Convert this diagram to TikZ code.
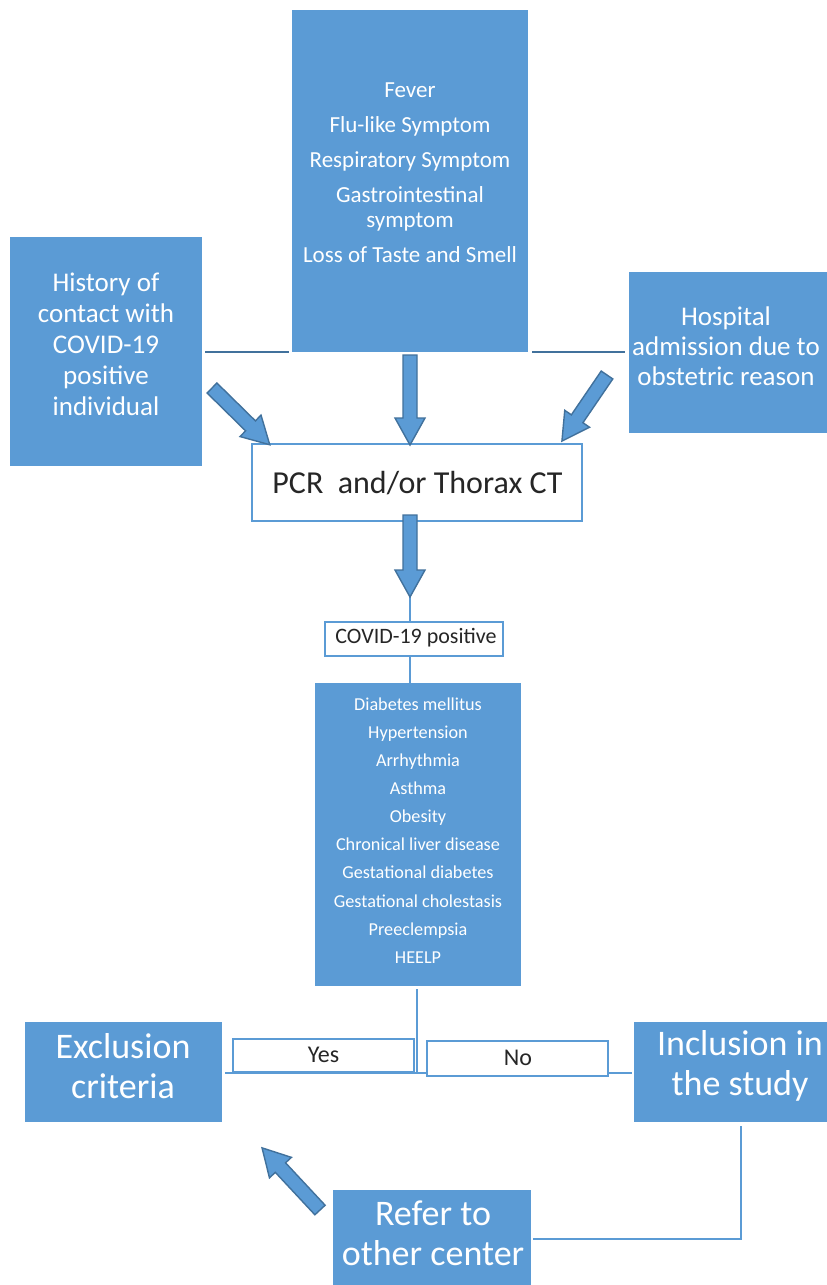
\documentclass[tikz,border=0pt]{standalone}
\usepackage{fontspec}
\setmainfont{Carlito}
\usetikzlibrary{calc}
\definecolor{boxblue}{HTML}{5B9BD5}
\definecolor{edgeblue}{HTML}{41719C}
\tikzset{
  fbox/.style={fill=boxblue, draw=none, inner sep=0pt, minimum width=#1},
  wbox/.style={fill=white, draw=boxblue, line width=2pt, inner sep=0pt},
  wtxt/.style={text=white, align=center, inner sep=0pt},
  btxt/.style={text=black!85, align=center, inner sep=0pt},
  conn/.style={draw=edgeblue, line width=1.8pt},
  conn2/.style={draw=boxblue, line width=2pt},
  barrowst/.style={fill=boxblue, draw=edgeblue, line width=1.4pt, line join=miter}
}
% block arrow: start coordinate, angle, length
\newcommand{\blockarr}[3]{%
  \draw[barrowst, shift={#1}, rotate=#2]
    (0,-7) -- (#3-27,-7) -- (#3-27,-15) -- (#3,0) -- (#3-27,15) -- (#3-27,7) -- (0,7) -- cycle;}
\begin{document}
\begin{tikzpicture}[x=1pt,y=-1pt]
\useasboundingbox (0,0) rectangle (827,1285);
\fill[white] (0,0) rectangle (827,1285);

% boxes
\node[fbox=236, minimum height=342] (top) at (410,181) {};
\node[fbox=192, minimum height=229] (hist) at (106,351.5) {};
\node[fbox=198, minimum height=161] (hosp) at (728,352.5) {};
\node[fbox=206, minimum height=303] (comorb) at (418,834.5) {};
\node[fbox=197, minimum height=100] (excl) at (123.5,1072) {};
\node[fbox=193, minimum height=100] (incl) at (730.5,1072) {};
\node[fbox=198, minimum height=95] (refer) at (432,1237.5) {};

% connectors
\draw[conn] (hist.east |- top.south) ++(3,0) -- ($(top.south west)+(-3,0)$);
\draw[conn] ($(top.south east)+(4,0)$) -- ($(hosp.west |- top.south)+(-4,0)$);
\coordinate (split) at (417,1073);
\draw[conn2] (comorb.south -| split) ++(0,3) -- (split);
\draw[conn2] ($(excl.east |- split)+(3,0)$) -- ($(incl.west |- split)+(-2,0)$);
\draw[conn2] ($(incl.south)+(10,4)$) |- ($(refer.east)+(2,1.5)$);

% white boxes
\node[wbox, minimum width=330, minimum height=77] (pcr) at (417,482.5) {};
\node[wbox, minimum width=178, minimum height=34] (covid) at (414,639) {};
\node[wbox, minimum width=181, minimum height=33] (yes) at (323.5,1055.5) {};
\node[wbox, minimum width=181, minimum height=35] (no) at (517.5,1058.5) {};

\coordinate (pcrin) at (410,597);
\draw[conn2] (pcrin) -- (pcrin |- covid.north);
\draw[conn2] (covid.south -| pcrin) -- (pcrin |- comorb.north);

% block arrows
\blockarr{(212,388)}{-44.5}{81}
\blockarr{(410,355)}{-90}{90}
\blockarr{(607,375)}{-124.3}{80}
\blockarr{(410,515)}{-90}{82}
\blockarr{(320,1210)}{133}{85}

% texts
\node[wtxt, font=\fontsize{23}{25}\selectfont] at (410,173)
  {Fever\\[10pt]Flu-like Symptom\\[10pt]Respiratory Symptom\\[10pt]Gastrointestinal\\symptom\\[10pt]Loss of Taste and Smell};
\node[wtxt, font=\fontsize{27}{31}\selectfont] at (106,344.5)
  {History of\\contact with\\COVID-19\\positive\\individual};
\node[wtxt, font=\fontsize{27}{30}\selectfont] at (726,346)
  {Hospital\\admission due to\\obstetric reason};
\node[btxt, font=\fontsize{32}{36}\selectfont] at (417.5,483) {PCR\ \ and/or Thorax CT};
\node[btxt, font=\fontsize{22}{24}\selectfont] at (416,638) {COVID-19 positive};
\node[wtxt, font=\fontsize{18.2}{28.1}\selectfont] at (418,830.5)
  {Diabetes mellitus\\Hypertension\\Arrhythmia\\Asthma\\Obesity\\Chronical liver disease\\Gestational diabetes\\Gestational cholestasis\\Preeclempsia\\HEELP};
\node[btxt, font=\fontsize{24}{26}\selectfont] at (323.5,1055) {Yes};
\node[btxt, font=\fontsize{24}{26}\selectfont] at (518,1058) {No};
\node[wtxt, font=\fontsize{36}{40}\selectfont] at (123,1066) {Exclusion\\criteria};
\node[wtxt, font=\fontsize{36}{40}\selectfont] at (740,1066) {Inclusion in\\the study};
\node[wtxt, font=\fontsize{36}{40}\selectfont] at (433,1233) {Refer to\\other center};
\end{tikzpicture}
\end{document}
